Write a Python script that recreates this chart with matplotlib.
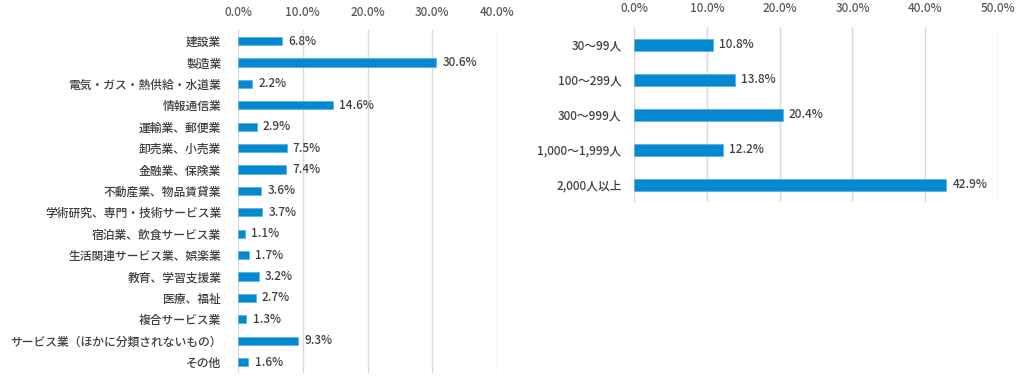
import matplotlib.pyplot as plt

plt.rcParams['font.family'] = ['Noto Sans CJK JP', 'DejaVu Sans']

industries = ['建設業', '製造業', '電気・ガス・熱供給・水道業', '情報通信業', '運輸業、郵便業',
              '卸売業、小売業', '金融業、保険業', '不動産業、物品賃貸業', '学術研究、専門・技術サービス業',
              '宿泊業、飲食サービス業', '生活関連サービス業、娯楽業', '教育、学習支援業', '医療、福祉',
              '複合サービス業', 'サービス業（ほかに分類されないもの）', 'その他']
industry_pct = [6.8, 30.6, 2.2, 14.6, 2.9, 7.5, 7.4, 3.6, 3.7, 1.1, 1.7, 3.2, 2.7, 1.3, 9.3, 1.6]

sizes = ['30～99人', '100～299人', '300～999人', '1,000～1,999人', '2,000人以上']
size_pct = [10.8, 13.8, 20.4, 12.2, 42.9]

bar_color = '#0489d1'
text_color = '#404040'
tick_color = '#595959'
grid_color = '#d9d9d9'


def draw(ax, labels, values, xmax, bar_h, pad, ypad):
    y = range(len(labels))
    ax.barh(y, values, height=bar_h, color=bar_color, edgecolor='#5fb3e3', linewidth=0.6, zorder=3)
    for yi, v in zip(y, values):
        ax.annotate(f'{v:.1f}%', (v, yi), xytext=(4.5, 0), textcoords='offset points',
                    va='center', ha='left', fontsize=8.5, color=text_color,
                    weight='medium', zorder=4)
    ax.set_xlim(0, xmax)
    ax.set_ylim(len(labels) - 0.5, -0.5)
    ax.set_yticks(list(y))
    ax.set_yticklabels(labels, fontsize=8.5, color=text_color, weight='medium')
    ticks = [i * 10 for i in range(int(xmax / 10) + 1)]
    ax.set_xticks(ticks)
    ax.set_xticklabels([f'{t:.1f}%' for t in ticks], fontsize=8.5, color=tick_color,
                       weight='medium')
    ax.xaxis.tick_top()
    ax.tick_params(axis='x', length=0, pad=pad)
    ax.tick_params(axis='y', length=0, pad=ypad)
    ax.grid(axis='x', color=grid_color, linewidth=1, zorder=0)
    for s in ax.spines.values():
        s.set_visible(False)


fig = plt.figure(figsize=(10.26, 3.84), dpi=100)
ax1 = fig.add_axes([0.232, 0.029, 0.2524, 0.892])
ax2 = fig.add_axes([0.618, 0.473, 0.3548, 0.4557])

draw(ax1, industries, industry_pct, 40, 0.38, 8.5, 12)
draw(ax2, sizes, size_pct, 50, 0.34, 9, 9)

fig.savefig('out.png', dpi=100)
